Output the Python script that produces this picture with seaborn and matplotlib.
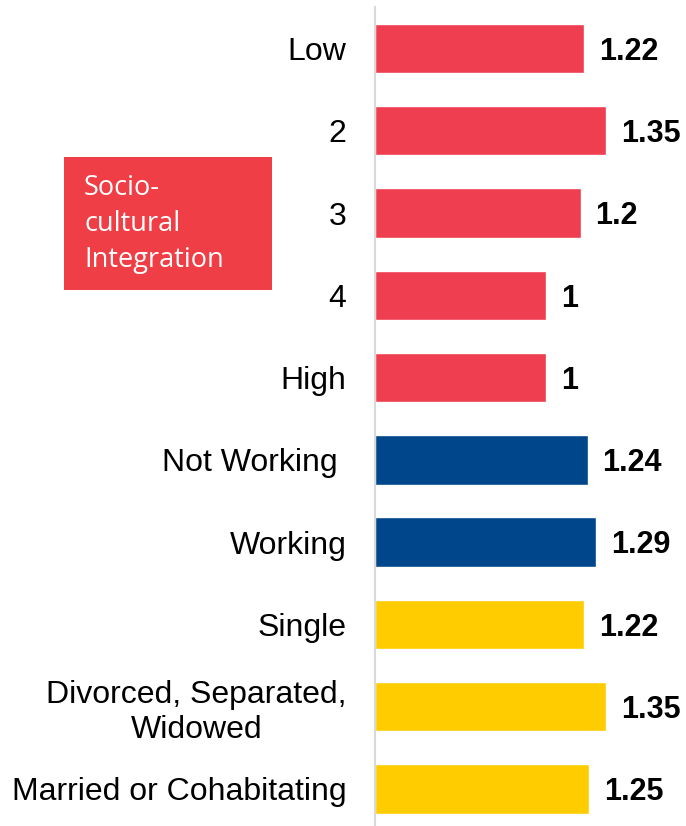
import matplotlib
matplotlib.use("Agg")
import matplotlib.pyplot as plt
import seaborn as sns
import pandas as pd
from matplotlib.patches import Rectangle

categories = ["Low", "2", "3", "4", "High", "Not Working ", "Working", "Single",
              "Divorced, Separated,\nWidowed", "Married or Cohabitating"]
values = [1.22, 1.35, 1.2, 1, 1, 1.24, 1.29, 1.22, 1.35, 1.25]
value_labels = ["1.22", "1.35", "1.2", "1", "1", "1.24", "1.29", "1.22", "1.35", "1.25"]
groups = ["Socio-cultural Integration"] * 5 + ["Employment"] * 2 + ["Marital Status"] * 3
legend_text = "Socio-\ncultural\nIntegration"

palette = {"Socio-cultural Integration": "#EF3E4F",
           "Employment": "#00468B",
           "Marital Status": "#FFCC00"}

df = pd.DataFrame({"category": categories, "value": values, "group": groups})

sns.set_theme(style="white")
plt.rcParams["font.family"] = ["Liberation Sans", "DejaVu Sans"]

fig = plt.figure(figsize=(6.86, 8.26), dpi=100)
ax = fig.add_axes([375 / 686, 1 - 830 / 826, 308.6 / 686, 822.6 / 826])

sns.barplot(data=df, y="category", x="value", hue="group", palette=palette,
            dodge=False, legend=False, width=0.6, saturation=1, ax=ax, orient="h")

ax.set_xlim(0, 1.8)
ax.set_ylim(9.5, -0.5)
ax.set_xlabel("")
ax.set_ylabel("")
ax.set_xticks([])
for s in ["top", "right", "bottom"]:
    ax.spines[s].set_visible(False)
ax.spines["left"].set_color("#D9D9D9")
ax.spines["left"].set_linewidth(1.5)

ax.tick_params(axis="y", length=0, pad=20.5, labelsize=23, labelcolor="black")
for t in ax.get_yticklabels():
    t.set_multialignment("center")

for i, (v, lab) in enumerate(zip(values, value_labels)):
    ax.text(v + 0.085, i + 0.04, lab, va="center", ha="left", fontsize=22,
            fontweight="bold", color="black")

fig.patches.append(Rectangle((64 / 686, 1 - 290 / 826), 208 / 686, 133 / 826,
                             transform=fig.transFigure, facecolor="#EF3E45",
                             edgecolor="none", zorder=0))
fig.text(84 / 686, 1 - 224 / 826, legend_text, transform=fig.transFigure,
         ha="left", va="center", color="white", fontsize=19.5,
         family=["Open Sans", "DejaVu Sans"], linespacing=1.38)

fig.savefig("out.png", dpi=100)
